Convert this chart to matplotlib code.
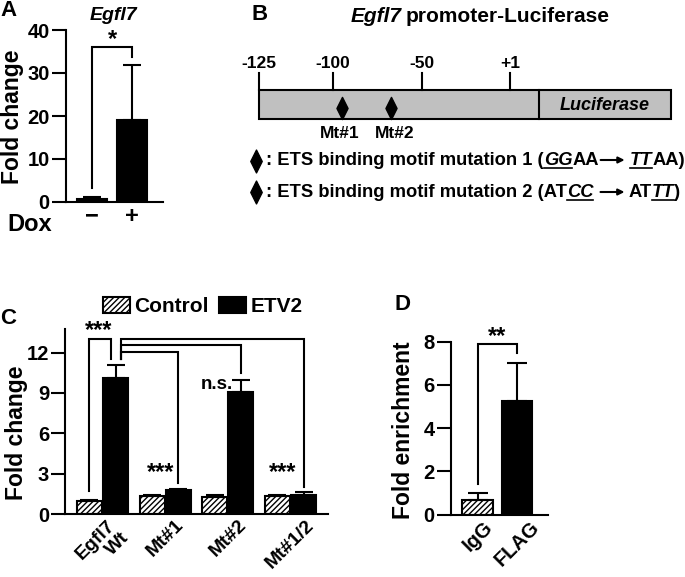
import matplotlib
matplotlib.use("Agg")
import matplotlib.pyplot as plt
import numpy as np
from matplotlib.path import Path

plt.rcParams['font.family'] = ['Liberation Sans', 'DejaVu Sans']
plt.rcParams['font.weight'] = 'bold'
plt.rcParams['hatch.linewidth'] = 1.0
plt.rcParams['axes.linewidth'] = 1.5

# ---- data ----
a_labels = ['\u2212', '+']
a_mean = [0.8, 19.0]
a_err = [0.3, 12.9]

c_labels = ['Egfl7\nWt', 'Mt#1', 'Mt#2', 'Mt#1/2']
c_control = [1.0, 1.35, 1.3, 1.35]
c_control_err = [0.05, 0.1, 0.1, 0.08]
c_etv2 = [10.1, 1.75, 9.1, 1.45]
c_etv2_err = [0.95, 0.08, 0.9, 0.15]

d_labels = ['IgG', 'FLAG']
d_mean = [0.65, 5.25]
d_err = [0.33, 1.75]

promoter_ticks = ['-125', '-100', '-50', '+1']
mutation_names = ['Mt#1', 'Mt#2']

W, H = 685, 577
fig = plt.figure(figsize=(W / 100, H / 100), dpi=100)

def px_axes(l, r, b, t):
    return fig.add_axes([l / W, 1 - b / H, (r - l) / W, (b - t) / H])

def style_axes(ax):
    for s in ['top', 'right']:
        ax.spines[s].set_visible(False)
    ax.spines['left'].set_linewidth(1.5)
    ax.spines['bottom'].set_linewidth(1.5)
    ax.tick_params(axis='y', length=10, width=1.5, pad=1.5, labelsize=14.5)
    ax.tick_params(axis='x', length=0, pad=2)

ebkw = dict(fmt='none', ecolor='k', elinewidth=1.5, capthick=1.5)

def bracket(ax, x1, y1, x2, y2, ytop):
    ax.plot([x1, x1, x2, x2], [y1, ytop, ytop, y2], color='k', lw=1.5,
            clip_on=False, solid_joinstyle='miter')

# ---- panel B: schematic in pixel coordinates ----
axb = fig.add_axes([0, 0, 1, 1])
axb.set_xlim(0, W)
axb.set_ylim(H, 0)
axb.axis('off')
axb.patch.set_alpha(0)
rend = fig.canvas.get_renderer()

def seq_text(x, y, parts, size):
    # parts: (text, italic, underline, gap_after)
    for s, it, ul, gap in parts:
        if s == 'ARROW':
            axb.annotate('', xy=(x + 24, y - 5), xytext=(x, y - 5),
                         arrowprops=dict(arrowstyle='-|>', lw=1.5, color='k',
                                         mutation_scale=9, shrinkA=0, shrinkB=0))
            x += 24 + gap
            continue
        t = axb.text(x, y, s, fontsize=size, fontweight='bold',
                     style='italic' if it else 'normal', ha='left', va='baseline')
        w = t.get_window_extent(renderer=rend).width
        if ul:
            axb.plot([x, x + w], [y + 3, y + 3], color='k', lw=1.2)
        x += w + gap
    return x

def center_seq(xc, y, parts, size):
    total = 0
    for s, it, ul, gap in parts:
        t = axb.text(0, 0, s, fontsize=size, fontweight='bold',
                     style='italic' if it else 'normal')
        total += t.get_window_extent(renderer=rend).width + gap
        t.remove()
    seq_text(xc - total / 2, y, parts, size)

center_seq(480, 22, [('Egfl7', True, False, 4), ('promoter-Luciferase', False, False, 0)], 15)

box_l, box_r, box_t, box_b, box_div = 259, 671, 90, 119, 539
axb.add_patch(plt.Rectangle((box_l, box_t), box_r - box_l, box_b - box_t,
                            facecolor='#c0c0c0', edgecolor='k', lw=1.5))
axb.plot([box_div, box_div], [box_t, box_b], color='k', lw=1.5)
axb.text((box_div + box_r) / 2, (box_t + box_b) / 2 + 1, 'Luciferase', style='italic',
         fontsize=13, ha='center', va='center')
tick_x = [259, 333, 422, 510]
for lab, tx in zip(promoter_ticks, tick_x):
    axb.plot([tx, tx], [73, box_t], color='k', lw=1.5)
    axb.text(tx, 63, lab, fontsize=12.5, ha='center', va='center')

diamond = Path([(0, 1), (0.5, 0), (0, -1), (-0.5, 0), (0, 1)],
               [Path.MOVETO, Path.LINETO, Path.LINETO, Path.LINETO, Path.CLOSEPOLY])
mut_x = [342, 391]
axb.plot(mut_x, [107.5, 107.5], ls='none', marker=diamond, ms=16, color='k')
for lab, mx, lx in zip(mutation_names, mut_x, [340, 395]):
    axb.text(lx, 134, lab, fontsize=12.5, ha='center', va='center')

axb.plot([256.5, 256.5], [161, 192], ls='none', marker=diamond, ms=16.5, color='k')
seq_text(266, 165, [(': ETS binding motif mutation 1 (', False, False, 0),
                    ('GG', True, True, 0), ('AA', False, False, 2),
                    ('ARROW', False, False, 5),
                    ('TT', True, True, 0), ('AA)', False, False, 0)], 13.2)
seq_text(266, 197, [(': ETS binding motif mutation 2 (AT', False, False, 0),
                    ('CC', True, True, 7),
                    ('ARROW', False, False, 4),
                    ('AT', False, False, 0), ('TT', True, True, 0), (')', False, False, 0)], 13.2)

# ---- panel A ----
axa = px_axes(65.7, 163, 202, 30)
style_axes(axa)
xa = np.arange(len(a_labels))
axa.bar(xa, a_mean, width=0.75, color='k', edgecolor='k', lw=1.5)
axa.errorbar(xa, a_mean, yerr=[np.zeros(2), a_err], capsize=6.5, **ebkw)
axa.set_xlim(-0.67, 1.78)
axa.set_ylim(0, 40)
axa.set_yticks([0, 10, 20, 30, 40])
axa.set_xticks(xa)
axa.set_xticklabels(a_labels, fontsize=17)
bracket(axa, 0, 3.2, 1, 33.8, 36.1)
axa.text(0.5, 35.2, '*', fontsize=17, ha='center', va='bottom')
fig.text(7 / W, 1 - 224 / H, 'Dox', fontsize=17, ha='left', va='center')
fig.text(13 / W, 1 - 117 / H, 'Fold change', fontsize=16.5, rotation=90,
         ha='center', va='center')
fig.text(113 / W, 1 - 15 / H, 'Egfl7', fontsize=14, style='italic',
         ha='center', va='center')
fig.text(0 / W, 1 - 10 / H, 'A', fontsize=16, ha='left', va='center')
fig.text(252 / W, 1 - 14 / H, 'B', fontsize=16, ha='left', va='center')

# ---- panel C ----
axc = px_axes(65, 328, 514, 329)
style_axes(axc)
xc = np.arange(len(c_labels))
off, bw = 0.21, 0.40
axc.bar(xc - off, c_control, width=bw, color='white', edgecolor='k', lw=1.5,
        hatch='//////', label='Control')
axc.bar(xc + off, c_etv2, width=bw, color='k', edgecolor='k', lw=1.5, label='ETV2')
axc.errorbar(xc - off, c_control, yerr=[np.zeros(4), c_control_err], capsize=6.5, **ebkw)
axc.errorbar(xc + off, c_etv2, yerr=[np.zeros(4), c_etv2_err], capsize=6.5, **ebkw)
axc.set_xlim(-0.6, 3.6)
axc.set_ylim(0, 13.76)
axc.set_yticks([0, 3, 6, 9, 12])
axc.set_xticks(xc)
axc.set_xticklabels(c_labels, fontsize=14, rotation=45, ha='center', va='top',
                    multialignment='right', linespacing=1.1)
bracket(axc, -off, 1.7, 0.137, 11.5, 13.0)
bracket(axc, 0.297, 11.5, 3 + off, 2.0, 13.0)
bracket(axc, 0.297, 11.5, 2 + off, 10.47, 12.55)
bracket(axc, 0.297, 11.5, 1 + off, 2.3, 12.05)
axc.text(-0.07, 12.8, '***', fontsize=17, ha='center', va='bottom')
axc.text(0.92, 2.2, '***', fontsize=17, ha='center', va='bottom')
axc.text(2.88, 2.2, '***', fontsize=17, ha='center', va='bottom')
axc.text(1.83, 9.6, 'n.s.', fontsize=13.5, ha='center', va='center')
axc.legend(loc='lower left', bbox_to_anchor=(103 / W, 1 - 316 / H),
           bbox_transform=fig.transFigure, ncol=2, frameon=False, fontsize=15,
           handlelength=1.3, handleheight=0.8, handletextpad=0.2, columnspacing=0.5,
           borderpad=0, borderaxespad=0)
fig.text(17 / W, 1 - 433 / H, 'Fold change', fontsize=16.5, rotation=90,
         ha='center', va='center')
fig.text(0 / W, 1 - 318 / H, 'C', fontsize=16, ha='left', va='center')

# ---- panel D ----
axd = px_axes(450.5, 548, 514.5, 341.7)
style_axes(axd)
xd = np.arange(len(d_labels))
axd.bar(xd, d_mean, width=0.77, color=['white', 'k'], edgecolor='k', lw=1.5,
        hatch=['//////', None])
axd.errorbar(xd, d_mean, yerr=[np.zeros(2), d_err], capsize=7, **ebkw)
axd.set_xlim(-0.69, 1.79)
axd.set_ylim(0, 8)
axd.set_yticks([0, 2, 4, 6, 8])
axd.set_xticks(xd)
axd.set_xticklabels(d_labels, fontsize=14.5, rotation=45, ha='center', va='top')
bracket(axd, 0, 1.43, 1, 7.48, 7.9)
axd.text(0.5, 7.7, '**', fontsize=17, ha='center', va='bottom')
fig.text(404 / W, 1 - 430 / H, 'Fold enrichment', fontsize=16.5, rotation=90,
         ha='center', va='center')
fig.text(395 / W, 1 - 305 / H, 'D', fontsize=16, ha='left', va='center')

fig.savefig('out.png', dpi=100)
